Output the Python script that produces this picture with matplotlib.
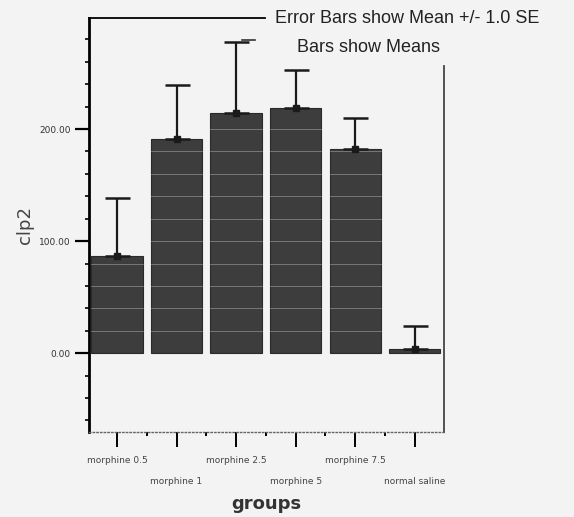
import numpy as np
import matplotlib
matplotlib.use("Agg")
import matplotlib.pyplot as plt
from matplotlib.lines import Line2D

groups = ["morphine 0.5", "morphine 1", "morphine 2.5", "morphine 5", "morphine 7.5", "normal saline"]
means = [86.5, 191.5, 214.0, 219.0, 182.5, 3.5]
se = [52.0, 48.0, 64.0, 34.0, 27.5, 20.5]

fig = plt.figure(figsize=(5.74, 5.17), dpi=100, facecolor="#f3f3f3")
ax = fig.add_axes([0.155, 0.164, 0.6185, 0.801])
ax.set_facecolor("#f3f3f3")

x = np.arange(len(groups))
bars = ax.bar(x, means, width=0.86, color="#3d3d3d", edgecolor="#2a2a2a", linewidth=0.8, zorder=2)
# faint horizontal streaks seen through the bars
for b in bars:
    for yv in np.arange(20, b.get_height(), 20):
        ax.plot([b.get_x(), b.get_x() + b.get_width()], [yv, yv], color="white",
                lw=0.6, alpha=0.35, zorder=3)
ax.errorbar(x, means, yerr=[np.zeros(len(se)), se], fmt="s", ms=4, color="#1a1a1a",
            ecolor="#1a1a1a", elinewidth=1.6, capsize=9, capthick=1.8, zorder=4)

ax.set_xlim(-0.47, 5.49)
ax.set_ylim(-70.5, 299)

ax.set_yticks([0, 100, 200])
ax.set_yticklabels(["0.00", "100.00", "200.00"], fontsize=6.5, color="#333333")
ax.set_yticks(np.arange(-60, 300, 20), minor=True)
ax.tick_params(axis="y", which="major", length=10, width=1.6, pad=3)
ax.tick_params(axis="y", which="minor", length=3, width=1.2)

ax.set_xticks(x)
ax.set_xticklabels([g if i % 2 == 0 else "\n\n" + g for i, g in enumerate(groups)],
                   fontsize=6.5, color="#444444")
ax.set_xticks(x[:-1] + 0.5, minor=True)
ax.tick_params(axis="x", which="major", length=11, width=1.4, pad=6)
ax.tick_params(axis="x", which="minor", length=3, width=1.4)

ax.spines["left"].set_linewidth(2)
ax.spines["bottom"].set_linestyle(":")
ax.spines["bottom"].set_color("#666666")
ax.spines["bottom"].set_linewidth(1)
ax.spines["right"].set_linewidth(1.3)
ax.spines["right"].set_color("#444444")
ax.spines["right"].set_bounds(-70.5, 256)
ax.spines["top"].set_linewidth(1.3)
ax.spines["top"].set_bounds(-0.47, 2.48)

ax.set_ylabel("clp2", fontsize=13, color="#444444", labelpad=4)
ax.set_xlabel("groups", fontsize=13, fontweight="bold", color="#333333", labelpad=7)

fig.text(0.479, 0.965, "Error Bars show Mean +/- 1.0 SE", fontsize=13,
         family=["Liberation Sans", "DejaVu Sans"], va="center", ha="left", color="#222222")
fig.text(0.517, 0.909, "Bars show Means", fontsize=13,
         family=["Liberation Sans", "DejaVu Sans"], va="center", ha="left", color="#222222")
fig.add_artist(Line2D([0.422, 0.445], [0.922, 0.922], color="#333333", lw=1.2))

fig.savefig("out.png", dpi=100, facecolor=fig.get_facecolor())
